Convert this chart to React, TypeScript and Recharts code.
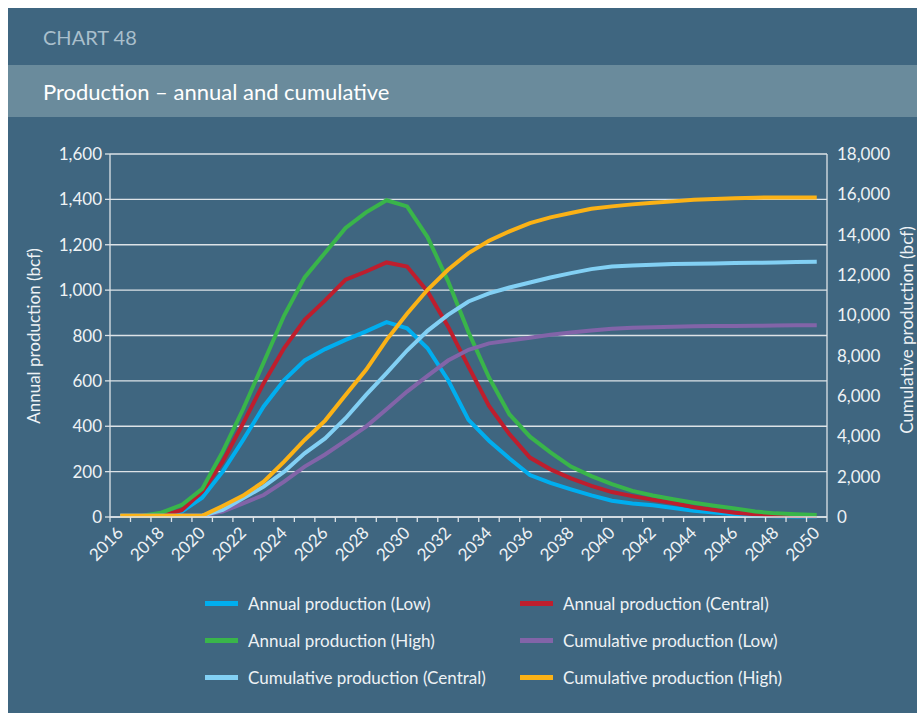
import { CartesianGrid, Legend, Line, LineChart, XAxis, YAxis } from "recharts";

const years = [
  2016, 2017, 2018, 2019, 2020, 2021, 2022, 2023, 2024, 2025, 2026, 2027,
  2028, 2029, 2030, 2031, 2032, 2033, 2034, 2035, 2036, 2037, 2038, 2039,
  2040, 2041, 2042, 2043, 2044, 2045, 2046, 2047, 2048, 2049, 2050,
];

// annual production, bcf (left axis)
const annualLow = [
  5, 5, 5, 24, 85, 200, 340, 487, 604, 690, 740, 781, 818, 859, 832, 744, 604,
  428, 336, 258, 185, 150, 122, 95, 72, 60, 52, 40, 28, 20, 12, 6, 3, 2, 1,
];
const annualCentral = [
  5, 5, 5, 30, 112, 244, 413, 590, 745, 869, 955, 1046, 1082, 1122, 1104, 994,
  840, 663, 490, 365, 262, 210, 170, 137, 110, 92, 76, 62, 43, 31, 19, 12, 6, 4,
  3,
];
const annualHigh = [
  5, 5, 19, 53, 124, 288, 476, 681, 888, 1056, 1165, 1274, 1343, 1396, 1369,
  1234, 1040, 815, 615, 452, 354, 285, 222, 180, 145, 115, 95, 78, 63, 50, 38,
  24, 16, 12, 9,
];

// cumulative production, bcf (right axis)
const cumulativeLow = [
  60, 60, 60, 60, 60, 265, 678, 1092, 1754, 2498, 3100, 3789, 4483, 5344, 6221,
  6998, 7759, 8289, 8610, 8752, 8884, 9033, 9149, 9248, 9331, 9380, 9414, 9440,
  9455, 9465, 9475, 9485, 9495, 9505, 9513,
];
const cumulativeCentral = [
  60, 60, 60, 60, 60, 347, 926, 1505, 2250, 3160, 3900, 4897, 6055, 7130, 8255,
  9232, 10026, 10687, 11090, 11382, 11630, 11878, 12094, 12292, 12425, 12474,
  12507, 12540, 12557, 12575, 12590, 12605, 12620, 12640, 12656,
];
const cumulativeHigh = [
  60, 60, 60, 60, 60, 546, 1059, 1754, 2746, 3822, 4781, 6055, 7296, 8785,
  10075, 11266, 12259, 13086, 13700, 14162, 14575, 14857, 15072, 15287, 15403,
  15502, 15584, 15651, 15733, 15766, 15800, 15833, 15849, 15849, 15849,
];

const leftTicks = [0, 200, 400, 600, 800, 1000, 1200, 1400, 1600];
const rightTicks = [
  0, 2000, 4000, 6000, 8000, 10000, 12000, 14000, 16000, 18000,
];
const labelYears = [
  2016, 2018, 2020, 2022, 2024, 2026, 2028, 2030, 2032, 2034, 2036, 2038, 2040,
  2042, 2044, 2046, 2048, 2050,
];

const seriesNames = [
  "Annual production (Low)",
  "Annual production (Central)",
  "Annual production (High)",
  "Cumulative production (Low)",
  "Cumulative production (Central)",
  "Cumulative production (High)",
];

const data = years.map((year, i) => ({
  year,
  annualLow: annualLow[i],
  annualCentral: annualCentral[i],
  annualHigh: annualHigh[i],
  cumulativeLow: cumulativeLow[i],
  cumulativeCentral: cumulativeCentral[i],
  cumulativeHigh: cumulativeHigh[i],
}));

// tick marks sit between the years, labels on every other year
const edgeTicks = [...years.map((y) => y - 0.5), years[years.length - 1] + 0.5];
const xTicks = [...edgeTicks, ...labelYears].sort((a, b) => a - b);

const FONT = "Lato, 'Open Sans', sans-serif";
const BG = "#3f6680";
const BAND = "#6a8b9c";
const AXIS = "#dde3e7";
const TEXT = "#eef2f5";
const FS = 17;

const fmt = (v: number) => v.toLocaleString("en-US");

function YearTick(props: any) {
  const { x, y, payload } = props;
  const v = payload.value as number;
  if (!Number.isInteger(v)) {
    return <line x1={x} x2={x} y1={y} y2={y + 5} stroke={AXIS} strokeWidth={1.3} />;
  }
  if (v % 2 !== 0) return <g />;
  const tx = x + 4;
  const ty = y + 17;
  return (
    <text
      x={tx}
      y={ty}
      transform={`rotate(-45 ${tx} ${ty})`}
      textAnchor="end"
      fill={TEXT}
      fontSize={FS}
      fontFamily={FONT}
    >
      {v}
    </text>
  );
}

function LegendBox(props: any) {
  const items = [...(props.payload || [])].sort(
    (a: any, b: any) => seriesNames.indexOf(a.value) - seriesNames.indexOf(b.value)
  );
  return (
    <div
      style={{
        display: "grid",
        gridTemplateColumns: "315px 315px",
        fontFamily: FONT,
        fontSize: FS,
        color: TEXT,
      }}
    >
      {items.map((it: any) => (
        <div key={it.value} style={{ display: "flex", alignItems: "center", height: 37 }}>
          <span
            style={{
              display: "inline-block",
              width: 33,
              height: 5,
              background: it.color,
              marginRight: 10,
            }}
          />
          {it.value}
        </div>
      ))}
    </div>
  );
}

export default function App() {
  return (
    <div
      style={{
        position: "fixed",
        left: 0,
        top: 0,
        width: 917,
        height: 713,
        background: "#ffffff",
        overflow: "hidden",
      }}
    >
      <div
        style={{
          position: "absolute",
          left: 8,
          top: 8,
          width: 909,
          height: 705,
          background: BG,
          overflow: "hidden",
          fontFamily: FONT,
        }}
      >
        <div
          style={{
            position: "absolute",
            left: 0,
            top: 0,
            width: 909,
            height: 57,
            display: "flex",
            alignItems: "center",
            paddingLeft: 35,
            boxSizing: "border-box",
            color: "#a9bfcc",
            fontSize: 20,
          }}
        >
          CHART 48
        </div>
        <div
          style={{
            position: "absolute",
            left: 0,
            top: 57,
            width: 909,
            height: 52,
            background: BAND,
            display: "flex",
            alignItems: "center",
            paddingLeft: 35,
            boxSizing: "border-box",
            color: "#ffffff",
            fontSize: 22,
          }}
        >
          Production – annual and cumulative
        </div>

        <div
          style={{
            position: "absolute",
            left: 25,
            top: 328,
            transform: "translate(-50%, -50%) rotate(-90deg)",
            whiteSpace: "nowrap",
            color: TEXT,
            fontSize: FS,
          }}
        >
          Annual production (bcf)
        </div>
        <div
          style={{
            position: "absolute",
            left: 898,
            top: 322,
            transform: "translate(-50%, -50%) rotate(-90deg)",
            whiteSpace: "nowrap",
            color: TEXT,
            fontSize: FS,
          }}
        >
          Cumulative production (bcf)
        </div>

        <div style={{ position: "absolute", left: 0, top: 109 }}>
          <LineChart
            width={909}
            height={596}
            data={data}
            margin={{ top: 37, right: 9, bottom: 146, left: 30 }}
          >
            <CartesianGrid
              yAxisId="left"
              vertical={false}
              stroke={AXIS}
              strokeWidth={1.3}
            />
            <XAxis
              dataKey="year"
              type="number"
              domain={[2015.5, 2050.5]}
              ticks={xTicks}
              interval={0}
              tickLine={false}
              tickSize={0}
              tickMargin={0}
              axisLine={{ stroke: AXIS, strokeWidth: 1.3 }}
              height={50}
              tick={<YearTick />}
            />
            <YAxis
              yAxisId="left"
              domain={[0, 1600]}
              ticks={leftTicks}
              tickFormatter={fmt}
              tickSize={5}
              tickMargin={3}
              width={72}
              axisLine={{ stroke: AXIS, strokeWidth: 1.3 }}
              tickLine={{ stroke: AXIS, strokeWidth: 1.3 }}
              tick={{ fill: TEXT, fontSize: FS, fontFamily: FONT }}
            />
            <YAxis
              yAxisId="mirror"
              orientation="right"
              domain={[0, 1600]}
              ticks={leftTicks}
              tick={false}
              tickSize={5}
              width={1}
              axisLine={{ stroke: AXIS, strokeWidth: 1.3 }}
              tickLine={{ stroke: AXIS, strokeWidth: 1.3 }}
            />
            <YAxis
              yAxisId="right"
              orientation="right"
              domain={[0, 18000]}
              ticks={rightTicks}
              tickFormatter={fmt}
              tickLine={false}
              axisLine={false}
              tickSize={6}
              tickMargin={3}
              width={80}
              tick={{ fill: TEXT, fontSize: FS, fontFamily: FONT, textAnchor: "start" }}
            />
            <Legend
              layout="horizontal"
              verticalAlign="middle"
              align="center"
              wrapperStyle={{ left: 197, top: 468, width: 640 }}
              content={<LegendBox />}
            />
            <Line yAxisId="left" dataKey="annualLow" name={seriesNames[0]} stroke="#00aeef" strokeWidth={4} dot={false} isAnimationActive={false} />
            <Line yAxisId="left" dataKey="annualCentral" name={seriesNames[1]} stroke="#be1e2d" strokeWidth={4} dot={false} isAnimationActive={false} />
            <Line yAxisId="left" dataKey="annualHigh" name={seriesNames[2]} stroke="#39b54a" strokeWidth={4} dot={false} isAnimationActive={false} />
            <Line yAxisId="right" dataKey="cumulativeLow" name={seriesNames[3]} stroke="#8264a8" strokeWidth={4} dot={false} isAnimationActive={false} />
            <Line yAxisId="right" dataKey="cumulativeCentral" name={seriesNames[4]} stroke="#82d0f4" strokeWidth={4} dot={false} isAnimationActive={false} />
            <Line yAxisId="right" dataKey="cumulativeHigh" name={seriesNames[5]} stroke="#fbb216" strokeWidth={4} dot={false} isAnimationActive={false} />
          </LineChart>
        </div>
      </div>
    </div>
  );
}
